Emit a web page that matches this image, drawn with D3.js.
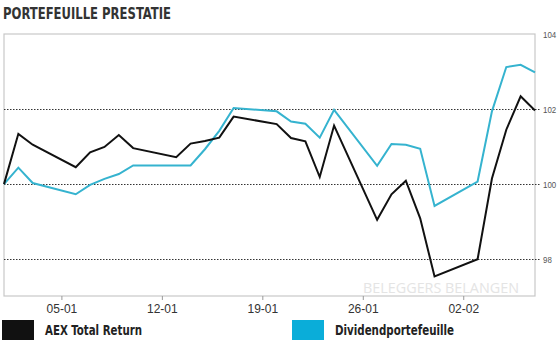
<!DOCTYPE html>
<html>
<head>
<meta charset="utf-8">
<script src="https://cdn.jsdelivr.net/npm/d3@7/dist/d3.min.js"></script>
<style>
  html, body { margin: 0; padding: 0; background: #fff; }
  svg { display: block; }
</style>
</head>
<body>
<svg id="chart" width="559" height="343"></svg>
<script>
// Trading days (2014) and indexed performance, start = 100
const dates = [
  "2014-01-01","2014-01-02","2014-01-03","2014-01-06","2014-01-07","2014-01-08",
  "2014-01-09","2014-01-10","2014-01-13","2014-01-14","2014-01-15","2014-01-16",
  "2014-01-17","2014-01-20","2014-01-21","2014-01-22","2014-01-23","2014-01-24",
  "2014-01-27","2014-01-28","2014-01-29","2014-01-30","2014-01-31","2014-02-03",
  "2014-02-04","2014-02-05","2014-02-06","2014-02-07"
];
const aexTotalReturn = [
  100.00, 101.34, 101.05, 100.45, 100.85, 100.99,
  101.31, 100.96, 100.72, 101.08, 101.15, 101.24,
  101.80, 101.60, 101.23, 101.14, 100.19, 101.56,
  99.05, 99.73, 100.09, 99.09, 97.54, 98.00,
  100.15, 101.45, 102.34, 101.96
];
const dividendPortefeuille = [
  100.00, 100.44, 100.03, 99.73, 99.98, 100.14,
  100.27, 100.50, 100.50, 100.50, 100.93, 101.42,
  102.03, 101.94, 101.67, 101.61, 101.24, 101.98,
  100.49, 101.07, 101.05, 100.94, 99.42, 100.07,
  101.94, 103.12, 103.18, 102.98
];
const xTickDates = ["2014-01-05","2014-01-12","2014-01-19","2014-01-26","2014-02-02"];
const yTicks = [98, 100, 102, 104];
const seriesNames = ["AEX Total Return", "Dividendportefeuille"];

const parse = d3.utcParse("%Y-%m-%d");
const fmt = d3.utcFormat("%d-%m");
const dateObjs = dates.map(parse);

const svg = d3.select("#chart");
const plot = { left: 4, right: 535, top: 34, bottom: 296 };

const x = d3.scaleUtc()
  .domain([dateObjs[0], dateObjs[dateObjs.length - 1]])
  .range([plot.left, plot.right]);
const y = d3.scaleLinear()
  .domain([97.02, 104])
  .range([plot.bottom, plot.top]);

const condensed = "'Liberation Sans Narrow', 'DejaVu Sans Condensed', 'Roboto Condensed', Arial, sans-serif";

// Title
svg.append("text")
  .attr("x", 3).attr("y", 19)
  .attr("font-family", condensed)
  .attr("font-weight", "bold")
  .attr("font-size", 16.5)
  .attr("fill", "#333")
  .attr("textLength", 168)
  .attr("lengthAdjust", "spacingAndGlyphs")
  .text("PORTEFEUILLE PRESTATIE");

// Plot frame
svg.append("rect")
  .attr("x", plot.left).attr("y", plot.top)
  .attr("width", plot.right - plot.left)
  .attr("height", plot.bottom - plot.top)
  .attr("fill", "none")
  .attr("stroke", "#c8c8c8")
  .attr("stroke-width", 1.2);

// Watermark
svg.append("text")
  .attr("x", 363).attr("y", 293)
  .attr("font-family", "'Open Sans', Arial, sans-serif")
  .attr("font-size", 14)
  .attr("fill", "#e4e4e4")
  .attr("textLength", 156)
  .attr("lengthAdjust", "spacingAndGlyphs")
  .text("BELEGGERS BELANGEN");

// Horizontal dotted gridlines
svg.append("g").selectAll("line")
  .data(yTicks.filter(v => v < 104))
  .join("line")
  .attr("x1", plot.left).attr("x2", 541)
  .attr("y1", d => Math.round(y(d)) + 0.5)
  .attr("y2", d => Math.round(y(d)) + 0.5)
  .attr("stroke", "#333")
  .attr("stroke-width", 1)
  .attr("stroke-dasharray", "1.5,1.5");

// Right axis labels
const yAxis = d3.axisRight(y)
  .tickValues(yTicks)
  .tickFormat(d3.format("d"))
  .tickSize(0)
  .tickPadding(0);
const yg = svg.append("g").attr("transform", `translate(543,0)`).call(yAxis);
yg.select(".domain").remove();
yg.selectAll("text")
  .attr("font-family", "Arial, 'Liberation Sans', sans-serif")
  .attr("font-size", 9.5)
  .attr("fill", "#555")
  .attr("dy", "0.35em")
  .attr("textLength", d => String(d).length * 4.4)
  .attr("lengthAdjust", "spacingAndGlyphs");

// Bottom axis
const xAxis = d3.axisBottom(x)
  .tickValues(xTickDates.map(parse))
  .tickFormat(fmt)
  .tickSize(4)
  .tickPadding(4);
const xg = svg.append("g").attr("transform", `translate(0,${plot.bottom})`).call(xAxis);
xg.select(".domain").remove();
xg.selectAll("line").attr("stroke", "#999");
xg.selectAll("text")
  .attr("font-family", "Arial, 'Liberation Sans', sans-serif")
  .attr("font-size", 12)
  .attr("fill", "#333");

// Lines
const series = [
  { name: seriesNames[0], values: aexTotalReturn, color: "#111111", swatch: "#111111" },
  { name: seriesNames[1], values: dividendPortefeuille, color: "#35b3cf", swatch: "#0aadd9" }
];
const line = d3.line()
  .x((d, i) => x(dateObjs[i]))
  .y(d => y(d));

// draw the dividend line first so the AEX line sits on top
[series[1], series[0]].forEach(s => {
  svg.append("path")
    .datum(s.values)
    .attr("d", line)
    .attr("fill", "none")
    .attr("stroke", s.color)
    .attr("stroke-width", 2)
    .attr("stroke-linejoin", "miter");
});

// Legend
const legendPos = [
  { bx: 2, tx: 45, tw: 97 },
  { bx: 292, tx: 335, tw: 119 }
];
series.forEach((s, i) => {
  const p = legendPos[i];
  svg.append("rect")
    .attr("x", p.bx).attr("y", 320)
    .attr("width", 32).attr("height", 20)
    .attr("fill", s.swatch);
  svg.append("text")
    .attr("x", p.tx).attr("y", 334.5)
    .attr("font-family", condensed)
    .attr("font-weight", "bold")
    .attr("font-size", 13.5)
    .attr("fill", "#222")
    .attr("textLength", p.tw)
    .attr("lengthAdjust", "spacingAndGlyphs")
    .text(s.name);
});
</script>
</body>
</html>
